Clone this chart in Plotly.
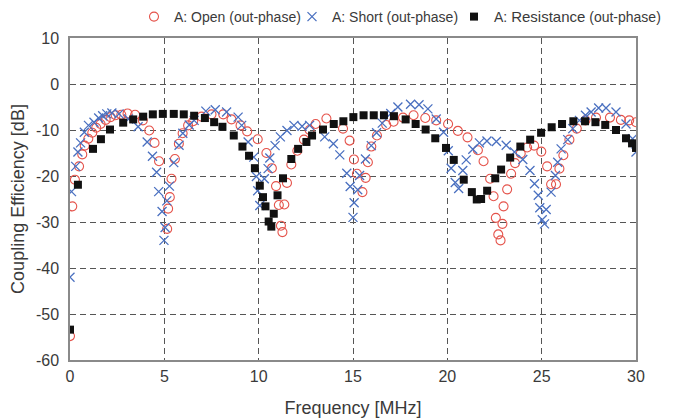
import plotly.graph_objects as go

# ---------------- data ----------------
open_f = [0.0, 0.12, 0.26, 0.48, 0.65, 0.78, 0.97, 1.18, 1.39, 1.62, 1.89, 2.15, 2.42, 2.72, 3.05,
          3.45, 3.86, 4.2, 4.48, 4.72, 5.15, 5.2, 5.29, 5.38, 5.56, 5.77, 5.97, 6.26, 6.53, 6.97,
          7.5, 8.12, 8.56, 9.04, 9.39, 9.95, 10.41, 10.7, 10.92, 11.07, 11.18, 11.26, 11.36, 11.5,
          11.73, 12.05, 12.4, 12.7, 13.02, 13.59, 14.47, 14.82, 15.05, 15.21, 15.5, 15.67, 15.79,
          15.97, 16.27, 16.76, 17.15, 17.65, 18.21, 18.83, 19.41, 20.04, 20.56, 21.07, 21.62,
          21.92, 22.27, 22.45, 22.57, 22.7, 22.82, 22.92, 22.98, 23.17, 23.38, 23.59, 23.89,
          24.23, 24.6, 24.98, 25.29, 25.5, 25.76, 25.94, 26.15, 26.47, 26.86, 27.32, 27.88,
          28.62, 29.2, 29.64, 30.0]
open_db = [-54.8, -26.6, -20.8, -17.9, -15.3, -13.4, -11.9, -10.6, -9.5, -8.7, -7.8, -7.2, -6.8, -6.7, -6.4,
           -6.7, -7.9, -10.1, -12.8, -16.8, -31.5, -27.1, -24.6, -20.6, -16.3, -13.0, -10.7, -9.0, -8.1, -7.1,
           -6.6, -6.6, -7.7, -9.0, -10.3, -12.0, -15.0, -18.3, -22.2, -26.3, -30.8, -32.2, -26.2, -21.5,
           -17.5, -14.5, -12.1, -10.0, -8.7, -7.5, -9.7, -12.3, -16.4, -19.5, -23.5, -20.4, -17.0,
           -13.6, -11.2, -8.9, -8.2, -7.3, -6.8, -7.4, -7.9, -8.7, -10.2, -11.6, -14.4,
           -16.8, -20.6, -24.4, -29.1, -32.7, -34.0, -30.4, -26.6, -22.9, -19.5, -17.2, -15.1,
           -13.8, -13.4, -14.7, -17.9, -21.8, -21.8, -18.4, -15.5, -12.1, -9.7, -7.9, -7.3,
           -7.3, -7.8, -7.9, -8.3]

short_f = [0.0, 0.08, 0.3, 0.42, 0.56, 0.76, 0.98, 1.27, 1.52, 1.73, 1.95, 2.22, 2.6, 3.1, 3.61,
           4.09, 4.37, 4.59, 4.7, 4.88, 4.98, 5.04, 5.13, 5.27, 5.5, 5.78, 5.98, 6.32, 6.58, 7.2,
           7.7, 8.3, 8.91, 9.1, 9.44, 9.74, 9.88, 9.95, 10.06, 10.3, 10.5, 10.59, 10.87, 11.15,
           11.5, 11.87, 12.3, 12.7, 13.5, 13.96, 14.3, 14.67, 14.85, 15.0, 15.06, 15.25, 15.35,
           15.66, 15.97, 16.25, 16.55, 17.0, 17.38, 18.05, 18.5, 18.97, 19.41, 19.8, 20.05, 20.2,
           20.42, 20.6, 20.82, 21.0, 21.35, 21.7, 22.1, 22.6, 23.12, 23.56, 24.0, 24.38, 24.62,
           24.82, 24.9, 25.03, 25.15, 25.24, 25.5, 25.73, 25.85, 26.03, 26.38, 26.65, 27.0, 27.32,
           27.62, 28.02, 28.41, 28.94, 29.47, 29.82, 30.0]
short_db = [-42.0, -23.4, -17.9, -14.8, -12.8, -10.5, -9.0, -8.3, -7.4, -6.9, -6.5, -6.3, -6.5, -7.6, -9.3,
            -12.6, -15.7, -19.2, -23.4, -27.7, -34.0, -31.2, -25.4, -22.2, -17.1, -13.3, -10.7, -8.9, -7.9, -5.9,
            -5.6, -6.1, -7.2, -9.0, -12.6, -15.9, -20.1, -23.2, -26.4, -20.6, -18.4, -16.1, -13.4, -11.5,
            -10.1, -9.0, -9.2, -9.0, -11.5, -13.0, -15.4, -19.4, -22.3, -29.0, -25.8, -23.0, -19.9,
            -16.3, -13.4, -10.6, -8.5, -6.4, -5.0, -4.4, -4.5, -5.4, -7.6, -10.5, -14.5, -18.3,
            -21.4, -22.7, -18.8, -16.5, -14.2, -12.8, -12.4, -12.5, -13.3, -14.8, -16.4, -18.8, -21.7,
            -24.2, -26.9, -29.5, -30.4, -27.3, -23.5, -19.9, -17.0, -14.1, -12.1, -9.7, -7.9, -6.8,
            -6.1, -5.2, -5.2, -6.1, -8.7, -11.9, -14.8]

res_f = [0.0, 0.42, 1.22, 1.64, 2.12, 2.82, 3.35, 3.88, 4.39, 4.92, 5.5, 6.03, 6.58, 7.15, 7.64,
         8.08, 8.68, 9.14, 9.49, 9.8, 10.06, 10.23, 10.36, 10.53, 10.67, 10.8, 11.0, 11.29, 11.73,
         12.09, 12.53, 12.83, 13.41, 13.98, 14.49, 15.02, 15.56, 16.1, 16.64, 17.17, 17.79, 18.32,
         18.85, 19.36, 19.93, 20.34, 20.87, 21.3, 21.56, 21.79, 22.11, 22.54, 22.85, 23.33, 23.87,
         24.39, 24.97, 25.53, 26.08, 26.68, 27.3, 27.85, 28.37, 28.94, 29.47, 29.79, 30.0]
res_db = [-53.4, -21.9, -14.1, -12.0, -9.9, -8.4, -7.7, -7.1, -6.6, -6.5, -6.5, -6.6, -6.9, -7.4, -8.3,
          -9.3, -11.2, -13.6, -15.6, -18.3, -22.1, -24.6, -26.6, -29.9, -31.0, -28.2, -24.2, -20.5, -16.3,
          -14.1, -12.6, -11.2, -9.9, -8.7, -8.1, -7.2, -6.8, -6.8, -6.8, -7.0, -7.7, -8.7,
          -9.9, -11.8, -13.9, -16.5, -20.8, -23.5, -25.1, -25.0, -23.2, -20.5, -18.6, -16.0, -13.6,
          -12.1, -10.6, -9.4, -8.7, -8.1, -8.1, -8.3, -8.9, -10.0, -11.8, -12.9, -13.9]

x_ticks = [0, 5, 10, 15, 20, 25, 30]
x_ticktext = ["0", "5", "10", "15", "20", "25", "30"]
y_ticks = [10, 0, -10, -20, -30, -40, -50, -60]
y_ticktext = ["10", "0", "-10", "-20", "-30", "-40", "-50", "-60"]

series_names = [
    "A: Open (out-phase)",
    "A: Short (out-phase)",
    "A: <span style='font-size:15px'>Resistance</span> (out-phase)",
]

# ---------------- figure ----------------
# The page body has an 8px default margin, so the figure is sized 667x410
# to fill the 675x418 window exactly.
FONT = "Liberation Sans, Arial, sans-serif"
TXT = "#3a3a3a"
W, H = 667, 410
fig = go.Figure()
fig.add_trace(go.Scatter(
    x=open_f, y=open_db, mode="markers", name=series_names[0], legendwidth=113,
    marker=dict(symbol="circle-open", size=9, color="#e5534b", line=dict(width=1.1)),
))
fig.add_trace(go.Scatter(
    x=short_f, y=short_db, mode="markers", name=series_names[1], legendwidth=117,
    marker=dict(symbol="x-thin-open", size=9, color="#4a70c0", line=dict(width=1.3, color="#4a70c0")),
))
fig.add_trace(go.Scatter(
    x=res_f, y=res_db, mode="markers", name=series_names[2],
    marker=dict(symbol="square", size=8, color="#111111"),
))

grid = dict(showgrid=True, gridcolor="#555555", griddash="6px,4px", gridwidth=1,
            showline=True, linecolor="#8a8a8a", linewidth=1.5, mirror=True,
            zeroline=False, ticks="", automargin=False,
            tickfont=dict(family=FONT, size=16, color=TXT))

fig.update_xaxes(range=[0, 30], tickvals=x_ticks, ticktext=x_ticktext, ticklabelstandoff=1,
                 title=dict(text="Frequency [MHz]", font=dict(family=FONT, size=18, color=TXT),
                            standoff=17), **grid)
fig.update_yaxes(range=[-60, 10], tickvals=y_ticks, ticktext=y_ticktext, ticklabelstandoff=6,
                 title=dict(text="Coupling Efficiency [dB]", font=dict(family=FONT, size=18, color=TXT),
                            standoff=8), **grid)

fig.update_layout(
    width=W, height=H,
    margin=dict(l=62, r=39, t=30, b=58, autoexpand=False),
    paper_bgcolor="white", plot_bgcolor="white",
    font=dict(family=FONT, size=14, color=TXT),
    showlegend=True,
    legend=dict(orientation="h", xref="container", yref="container",
                x=126 / W, xanchor="left", y=1 - 9 / H, yanchor="middle",
                font=dict(family=FONT, size=14, color=TXT),
                itemwidth=30, tracegroupgap=0, bgcolor="rgba(0,0,0,0)"),
)

fig.write_html("out.html")
